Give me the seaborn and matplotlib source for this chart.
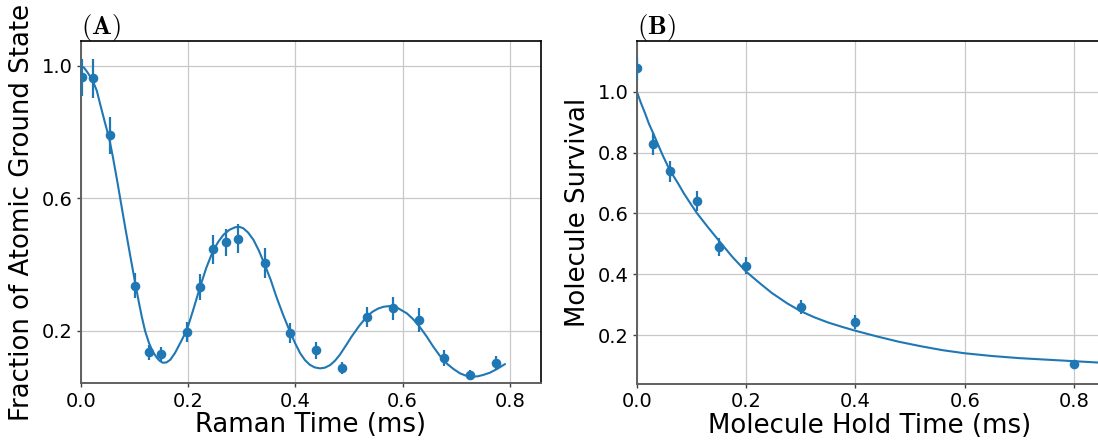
import numpy as np
import pandas as pd
import seaborn as sns
import matplotlib
matplotlib.use("Agg")
import matplotlib.pyplot as plt

# ---------------- Panel A data ----------------
raman_t = [0.002, 0.023, 0.054, 0.102, 0.127, 0.150, 0.198, 0.222, 0.246, 0.271, 0.294,
           0.343, 0.390, 0.438, 0.487, 0.534, 0.583, 0.630, 0.678, 0.726, 0.774]
raman_y = [0.965, 0.962, 0.790, 0.336, 0.135, 0.130, 0.197, 0.332, 0.446, 0.467, 0.479,
           0.406, 0.195, 0.141, 0.089, 0.242, 0.268, 0.233, 0.118, 0.066, 0.103]
raman_err = [0.056, 0.059, 0.055, 0.038, 0.022, 0.020, 0.030, 0.040, 0.045, 0.042, 0.045,
             0.045, 0.030, 0.025, 0.018, 0.030, 0.035, 0.035, 0.024, 0.015, 0.020]

fit_a_t = [0.000, 0.006, 0.012, 0.022, 0.030, 0.037, 0.045, 0.053, 0.060, 0.068, 0.075,
           0.083, 0.092, 0.102, 0.108, 0.114, 0.120, 0.127, 0.134, 0.142, 0.147, 0.153,
           0.160, 0.167, 0.176, 0.186, 0.198, 0.210, 0.222, 0.234, 0.246, 0.256, 0.266,
           0.277, 0.288, 0.296, 0.303, 0.312, 0.322, 0.332, 0.342, 0.354, 0.365, 0.377,
           0.390, 0.400, 0.409, 0.418, 0.427, 0.436, 0.446, 0.455, 0.465, 0.474, 0.483,
           0.494, 0.505, 0.519, 0.533, 0.544, 0.555, 0.565, 0.575, 0.590, 0.608, 0.620,
           0.632, 0.645, 0.657, 0.669, 0.682, 0.695, 0.707, 0.718, 0.729, 0.740, 0.750,
           0.763, 0.777, 0.791]
fit_a_y = [1.000, 0.995, 0.982, 0.957, 0.925, 0.880, 0.830, 0.782, 0.725, 0.653, 0.587,
           0.512, 0.430, 0.341, 0.290, 0.242, 0.200, 0.165, 0.138, 0.119, 0.110, 0.104,
           0.105, 0.113, 0.134, 0.165, 0.203, 0.265, 0.330, 0.390, 0.439, 0.468, 0.490,
           0.505, 0.513, 0.514, 0.510, 0.497, 0.475, 0.443, 0.404, 0.355, 0.302, 0.250,
           0.198, 0.162, 0.133, 0.112, 0.098, 0.090, 0.087, 0.089, 0.097, 0.110, 0.128,
           0.155, 0.183, 0.215, 0.243, 0.258, 0.268, 0.273, 0.275, 0.270, 0.253, 0.235,
           0.212, 0.183, 0.153, 0.126, 0.102, 0.085, 0.072, 0.065, 0.062, 0.063, 0.067,
           0.074, 0.086, 0.100]

# ---------------- Panel B data ----------------
hold_t = [0.000, 0.030, 0.060, 0.110, 0.150, 0.200, 0.300, 0.400, 0.800]
hold_y = [1.077, 0.828, 0.738, 0.641, 0.491, 0.429, 0.293, 0.243, 0.106]
hold_err = [0.038, 0.035, 0.035, 0.033, 0.030, 0.028, 0.022, 0.022, 0.010]

fit_b_t = [0.000, 0.007, 0.015, 0.022, 0.030, 0.047, 0.060, 0.075, 0.086, 0.098, 0.110,
           0.130, 0.150, 0.175, 0.200, 0.225, 0.247, 0.275, 0.300, 0.325, 0.350, 0.375,
           0.400, 0.440, 0.479, 0.520, 0.560, 0.600, 0.650, 0.700, 0.750, 0.800, 0.850]
fit_b_y = [1.000, 0.965, 0.929, 0.895, 0.863, 0.792, 0.743, 0.700, 0.666, 0.633, 0.601,
           0.555, 0.511, 0.457, 0.409, 0.371, 0.339, 0.305, 0.279, 0.259, 0.242, 0.228,
           0.215, 0.196, 0.179, 0.164, 0.151, 0.141, 0.132, 0.125, 0.120, 0.115, 0.110]

x_ticks = [0.0, 0.2, 0.4, 0.6, 0.8]
a_yticks = [0.2, 0.6, 1.0]
b_yticks = [0.2, 0.4, 0.6, 0.8, 1.0]

sns.set_style("white")
plt.rcParams["font.family"] = ["DejaVu Sans"]
plt.rcParams["mathtext.fontset"] = "cm"
for k in ["text.color", "axes.labelcolor", "xtick.color", "ytick.color"]:
    plt.rcParams[k] = "black"

blue = "#1f77b4"
fig = plt.figure(figsize=(10.98, 4.45), dpi=100)
axA = fig.add_axes([0.0735, 0.1387, 0.4192, 0.7698])
axB = fig.add_axes([0.580, 0.137, 0.424, 0.7715])


def style(ax, xlim, ylim, yticks, title, xlabel, ylabel):
    ax.set_xlim(*xlim)
    ax.set_ylim(*ylim)
    ax.set_xticks(x_ticks)
    ax.set_xticklabels([f"{v:.1f}" for v in x_ticks])
    ax.set_yticks(yticks)
    ax.set_yticklabels([f"{v:.1f}" for v in yticks])
    ax.grid(True, color="#c8c8c8", linewidth=0.9)
    ax.set_axisbelow(True)
    for s in ["top", "right"]:
        ax.spines[s].set_color("black")
        ax.spines[s].set_linewidth(1.2)
    for s in ["left", "bottom"]:
        ax.spines[s].set_color("#606060")
        ax.spines[s].set_linewidth(1.4)
    ax.tick_params(axis="both", labelsize=14, length=3, width=1, color="#404040",
                   labelcolor="black", direction="out", bottom=True, left=True, pad=3)
    ax.set_xlabel(xlabel, fontsize=18.7, labelpad=1)
    ax.set_ylabel(ylabel, fontsize=18.7, labelpad=5)
    ax.set_title(title, loc="left", fontsize=19, pad=5)


def panel(ax, t, y, err, ft, fy):
    sns.lineplot(x=ft, y=fy, ax=ax, color=blue, linewidth=1.5, sort=True, zorder=2)
    ax.errorbar(t, y, yerr=err, fmt="none", ecolor=blue, elinewidth=1.6, capsize=0, zorder=3)
    sns.scatterplot(x=t, y=y, ax=ax, color=blue, s=48, edgecolor=blue, linewidth=0, zorder=4)


panel(axA, raman_t, raman_y, raman_err, fit_a_t, fit_a_y)
style(axA, (0.0, 0.858), (0.042, 1.076), a_yticks, r"$(\mathbf{A})$",
      "Raman Time (ms)", "Fraction of Atomic Ground State")

panel(axB, hold_t, hold_y, hold_err, fit_b_t, fit_b_y)
style(axB, (0.0, 0.852), (0.04, 1.167), b_yticks, r"$(\mathbf{B})$",
      "Molecule Hold Time (ms)", "Molecule Survival")

fig.savefig("out.png", dpi=100)
